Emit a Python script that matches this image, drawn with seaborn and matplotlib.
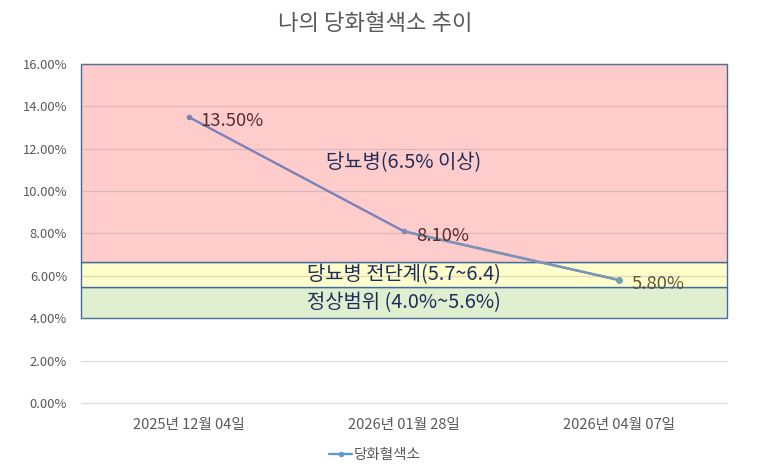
import matplotlib
matplotlib.use("Agg")
import matplotlib.pyplot as plt
import seaborn as sns
import pandas as pd

dates = ["2025년 12월 04일", "2026년 01월 28일", "2026년 04월 07일"]
hba1c = [13.50, 8.10, 5.80]
point_labels = ["13.50%", "8.10%", "5.80%"]
y_ticks = [0, 2, 4, 6, 8, 10, 12, 14, 16]

# reference bands (lower, upper, label)
band_low = [4.0, 5.46, 6.64]
band_high = [5.46, 6.64, 16.0]
band_names = ["정상범위 (4.0%~5.6%)", "당뇨병 전단계(5.7~6.4)", "당뇨병(6.5% 이상)"]
band_label_y = [4.76, 6.08, 11.35]

sns.set_theme(style="white")
plt.rcParams['font.family'] = ['Noto Sans CJK KR', 'DejaVu Sans']

df = pd.DataFrame({"x": range(len(dates)), "value": hba1c})

fig = plt.figure(figsize=(7.76, 4.72), dpi=100)
ax = fig.add_axes([0.1044, 0.1462, 0.8325, 0.7182])

band_colors = ["#dfefcf", "#ffffcc", "#ffcccc"]
for lo, hi, c in zip(band_low, band_high, band_colors):
    ax.axhspan(lo, hi, facecolor=c, edgecolor="#3f6b9e", linewidth=1.0,
               zorder=0, clip_on=False)

for t in y_ticks:
    ax.axhline(t, color="#888888", linewidth=0.9, zorder=0.5, alpha=0.3, clip_on=False)

sns.lineplot(data=df, x="x", y="value", ax=ax, color="#7a80b8", linewidth=1.7,
             marker="o", markersize=4, markeredgewidth=0, label="당화혈색소", zorder=3)
# last segment shifts toward teal like the original gradient
ax.plot(df["x"][1:], df["value"][1:], color="#7a96b6", linewidth=1.7, zorder=3)
ax.plot(df["x"][2:], df["value"][2:], "o", color="#6fa3b3", markersize=4, zorder=4)

label_colors = ["#5b2b2b", "#5b2b2b", "#5e5538"]
for i, (v, s) in enumerate(zip(hba1c, point_labels)):
    ax.text(i + 0.055, v - 0.2, s, fontsize=13.3, color=label_colors[i],
            ha="left", va="center", zorder=5)

for name, ly in zip(band_names, band_label_y):
    ax.text(1, ly, name, fontsize=14.3, color="#1f2d5c", ha="center", va="center", zorder=5)

ax.set_xlim(-0.5, 2.5)
ax.set_ylim(0, 16)
ax.set_yticks(y_ticks)
ax.set_yticklabels([f"{t:.2f}%" for t in y_ticks], fontsize=9.3, color="#595959")
ax.set_xticks(range(len(dates)))
ax.set_xticklabels(dates, fontsize=10.5, color="#595959")
ax.tick_params(axis="both", length=0, pad=8)
ax.tick_params(axis="y", pad=10)
ax.tick_params(axis="x", pad=11)
ax.set_xlabel("")
ax.set_ylabel("")
for sp in ax.spines.values():
    sp.set_visible(False)

fig.suptitle("나의 당화혈색소 추이", x=0.483, y=0.975, fontsize=16, color="#595959")

leg = ax.legend(loc="upper center", bbox_to_anchor=(0.455, -0.095), frameon=False,
                fontsize=10.5, handlelength=1.6, handletextpad=0.1)
for txt in leg.get_texts():
    txt.set_color("#595959")
for h in leg.legend_handles:
    h.set_color("#5b9bd5")

fig.savefig("out.png", dpi=100)
